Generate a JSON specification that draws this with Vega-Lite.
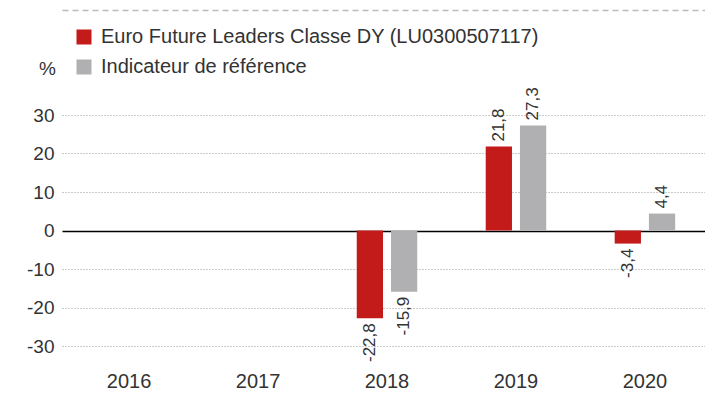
{
  "$schema": "https://vega.github.io/schema/vega-lite/v6.json",
  "width": 650,
  "height": 231,
  "autosize": {"type": "none"},
  "padding": {"left": 62, "top": 115, "right": 0, "bottom": 57},
  "background": "white",
  "config": {
    "font": "Liberation Sans",
    "view": {"stroke": null},
    "locale": {"number": {"decimal": ",", "thousands": ".", "grouping": [3], "currency": ["", " €"], "minus": "-"}}
  },
  "data": {"values": [
    {"year": "2018", "series": "Euro Future Leaders Classe DY (LU0300507117)", "value": -22.8},
    {"year": "2018", "series": "Indicateur de référence", "value": -15.9},
    {"year": "2019", "series": "Euro Future Leaders Classe DY (LU0300507117)", "value": 21.8},
    {"year": "2019", "series": "Indicateur de référence", "value": 27.3},
    {"year": "2020", "series": "Euro Future Leaders Classe DY (LU0300507117)", "value": -3.4},
    {"year": "2020", "series": "Indicateur de référence", "value": 4.4}
  ]},
  "resolve": {"axis": {"x": "independent"}},
  "encoding": {
    "y": {"field": "value", "type": "quantitative",
      "scale": {"domain": [-30, 30], "nice": false},
      "axis": {"values": [-30, -20, -10, 0, 10, 20, 30], "format": "d", "labelFontSize": 19, "labelColor": "#333", "labelPadding": 8, "labelOverlap": false, "ticks": false, "domain": false,
        "gridColor": {"condition": {"test": "datum.value === 0", "value": "#000"}, "value": "#999"},
        "gridDash": {"condition": {"test": "datum.value === 0", "value": []}, "value": [1, 2]},
        "gridWidth": {"condition": {"test": "datum.value === 0", "value": 1.5}, "value": 1},
        "title": "%", "titleAngle": 0, "titleX": -15, "titleY": -47, "titleFontSize": 19, "titleFontWeight": "normal", "titleColor": "#333", "titleAlign": "center", "titleBaseline": "middle"}}
  },
  "layer": [
    {
      "mark": {"type": "bar"},
      "encoding": {
        "x": {"field": "year", "type": "nominal",
          "scale": {"domain": ["2016", "2017", "2018", "2019", "2020"], "paddingInner": 0, "paddingOuter": 0.02},
          "axis": {"title": null, "labelAngle": 0, "labelFontSize": 20, "labelColor": "#333", "ticks": false, "domain": false, "labelPadding": 25, "labelOverlap": false}},
        "xOffset": {"field": "series", "type": "nominal",
          "scale": {"domain": ["Euro Future Leaders Classe DY (LU0300507117)", "Indicateur de référence"], "paddingInner": 0.233, "paddingOuter": 1.267}},
        "color": {"field": "series", "type": "nominal",
          "scale": {"domain": ["Euro Future Leaders Classe DY (LU0300507117)", "Indicateur de référence"], "range": ["#C31A1A", "#B0B0B2"]},
          "legend": {"title": null, "orient": "none", "legendX": 12, "legendY": -88, "symbolType": "square", "symbolSize": 225, "symbolStrokeWidth": 0, "symbolOpacity": 1,
            "labelFontSize": 20, "labelColor": "#333", "labelOffset": 7, "rowPadding": 10, "padding": 0, "labelLimit": 600}}
      }
    },
    {
      "transform": [{"filter": "datum.value >= 0"}],
      "mark": {"type": "text", "angle": 270, "align": "left", "baseline": "middle", "dx": 5, "fontSize": 17, "color": "#333"},
      "encoding": {
        "x": {"field": "year", "type": "nominal",
          "axis": {"orient": "top", "offset": 105, "title": null, "labels": false, "ticks": false, "grid": false, "domain": true, "domainColor": "#bbb", "domainDash": [6, 4], "domainWidth": 1.5}},
        "xOffset": {"field": "series", "type": "nominal"},
        "text": {"field": "value", "type": "quantitative", "format": ".1f"}
      }
    },
    {
      "transform": [{"filter": "datum.value < 0"}],
      "mark": {"type": "text", "angle": 270, "align": "right", "baseline": "middle", "dx": -5, "fontSize": 17, "color": "#333"},
      "encoding": {
        "x": {"field": "year", "type": "nominal", "axis": null},
        "xOffset": {"field": "series", "type": "nominal"},
        "text": {"field": "value", "type": "quantitative", "format": ".1f"}
      }
    }
  ]
}
